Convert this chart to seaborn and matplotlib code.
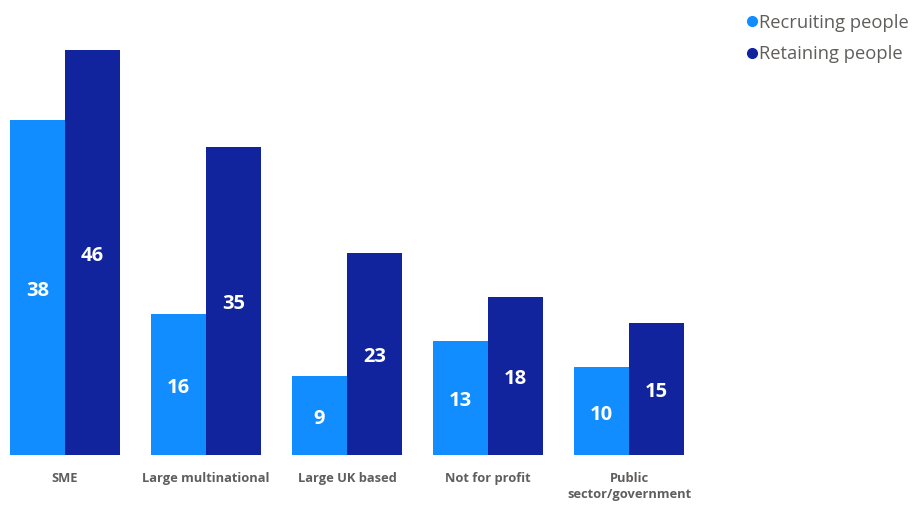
import matplotlib
matplotlib.use("Agg")
import matplotlib.pyplot as plt
import seaborn as sns
import pandas as pd
from matplotlib.lines import Line2D

categories = ["SME", "Large multinational", "Large UK based", "Not for profit", "Public\nsector/government"]
recruiting = [38, 16, 9, 13, 10]
retaining = [46, 35, 23, 18, 15]
series = ["Recruiting people", "Retaining people"]
colors = ["#118DFF", "#12239E"]

df = pd.DataFrame({
    "cat": categories * 2,
    "val": recruiting + retaining,
    "series": [series[0]] * len(categories) + [series[1]] * len(categories),
})

sns.set_style("white")
plt.rcParams['font.family'] = ['Open Sans', 'DejaVu Sans']

fig = plt.figure(figsize=(9.14, 5.07), dpi=100)
ax = fig.add_axes([10/914, 52/507, 674/914, 405/507])
sns.barplot(data=df, x="cat", y="val", hue="series", palette=colors,
            width=0.78, gap=0, dodge=True, ax=ax, legend=False, saturation=1,
            linewidth=0, edgecolor="none")
ax.set_xlim(-0.39, 4.39)
ax.set_ylim(0, 46)
for cont in ax.containers:
    for bar in cont:
        h = bar.get_height()
        ax.text(bar.get_x() + bar.get_width()/2, h/2 - 0.4, f"{int(round(h))}",
                ha="center", va="center", color="white", fontsize=14.5, fontweight="bold")
for s in ax.spines.values():
    s.set_visible(False)
ax.set_yticks([])
ax.set_xlabel("")
ax.set_ylabel("")
ax.tick_params(axis="x", length=0, pad=12)
for t in ax.get_xticklabels():
    t.set_fontsize(9.3)
    t.set_fontweight("bold")
    t.set_color("#605E5C")
    t.set_va("top")
    t.set_linespacing(1.35)

handles = [Line2D([0], [0], marker="o", linestyle="", markersize=7, color=c) for c in colors]
fig.legend(handles, series, loc="upper left", bbox_to_anchor=(724/914, 1 + 3/507),
           frameon=False, fontsize=13.2, handletextpad=-0.2, labelspacing=0.75,
           labelcolor="#605E5C", handlelength=1.2)
fig.savefig("out.png", dpi=100)
